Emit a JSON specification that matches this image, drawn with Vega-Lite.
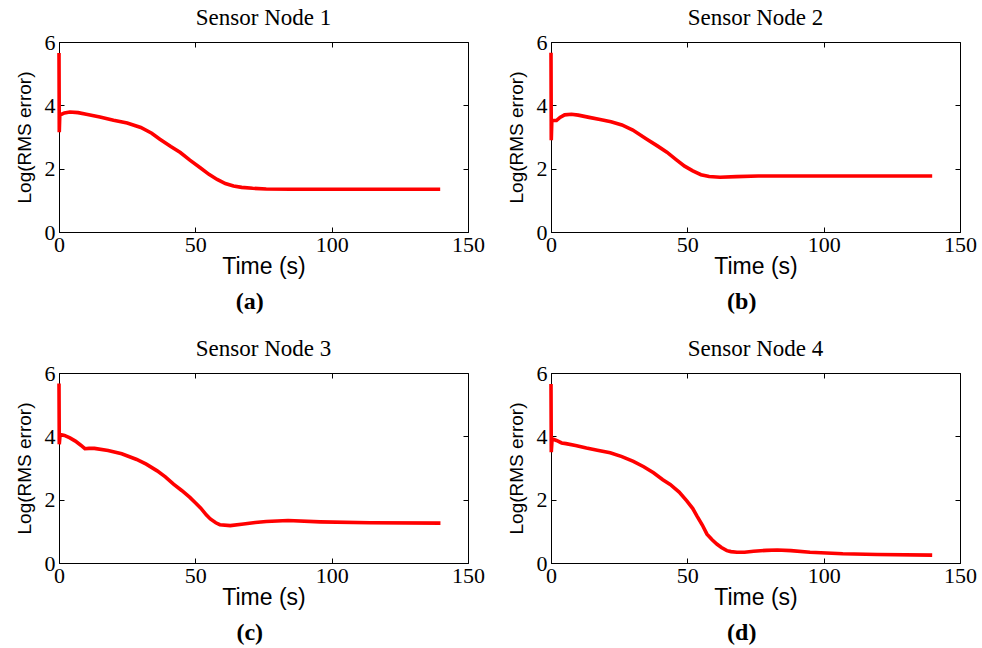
{
  "$schema": "https://vega.github.io/schema/vega-lite/v6.json",
  "background": "white",
  "padding": {"left": 14, "top": 6, "right": 5, "bottom": 0},
  "spacing": {"row": 23, "column": 21},
  "columns": 2,
  "config": {
    "view": {"stroke": "black", "strokeWidth": 1},
    "axis": {"grid": false, "domainColor": "black", "tickColor": "black", "labelColor": "black", "titleColor": "black", "titleFontWeight": "normal", "tickSize": -5, "labelFlush": false, "labelOverlap": false},
    "title": {"font": "Liberation Serif", "fontSize": 23, "fontWeight": "normal", "color": "black"}
  },
  "datasets": {
    "n1": [
      {"i": 0, "t": 0, "v": 5.65}, {"i": 1, "t": 0.1, "v": 3.15}, {"i": 2, "t": 0.3, "v": 3.72}, {"i": 3, "t": 1, "v": 3.72},
      {"i": 4, "t": 2, "v": 3.76}, {"i": 5, "t": 4, "v": 3.79}, {"i": 6, "t": 7, "v": 3.77}, {"i": 7, "t": 10, "v": 3.72},
      {"i": 8, "t": 15, "v": 3.63}, {"i": 9, "t": 20, "v": 3.53}, {"i": 10, "t": 25, "v": 3.44}, {"i": 11, "t": 30, "v": 3.3},
      {"i": 12, "t": 34, "v": 3.12}, {"i": 13, "t": 37, "v": 2.93}, {"i": 14, "t": 41, "v": 2.7}, {"i": 15, "t": 44.5, "v": 2.51},
      {"i": 16, "t": 48, "v": 2.27}, {"i": 17, "t": 51.8, "v": 2.03}, {"i": 18, "t": 55, "v": 1.82}, {"i": 19, "t": 58, "v": 1.66},
      {"i": 20, "t": 61, "v": 1.53}, {"i": 21, "t": 64, "v": 1.45}, {"i": 22, "t": 67, "v": 1.41}, {"i": 23, "t": 71, "v": 1.38},
      {"i": 24, "t": 76, "v": 1.36}, {"i": 25, "t": 85, "v": 1.35}, {"i": 26, "t": 100, "v": 1.35}, {"i": 27, "t": 120, "v": 1.35},
      {"i": 28, "t": 139.8, "v": 1.35}
    ],
    "n2": [
      {"i": 0, "t": 0, "v": 5.66}, {"i": 1, "t": 0.1, "v": 2.9}, {"i": 2, "t": 0.3, "v": 3.52}, {"i": 3, "t": 1, "v": 3.52},
      {"i": 4, "t": 2, "v": 3.52}, {"i": 5, "t": 3.3, "v": 3.62}, {"i": 6, "t": 5, "v": 3.7}, {"i": 7, "t": 7.5, "v": 3.72},
      {"i": 8, "t": 10, "v": 3.69}, {"i": 9, "t": 14, "v": 3.62}, {"i": 10, "t": 18, "v": 3.55}, {"i": 11, "t": 22, "v": 3.48},
      {"i": 12, "t": 26, "v": 3.38}, {"i": 13, "t": 30, "v": 3.22}, {"i": 14, "t": 35, "v": 2.94}, {"i": 15, "t": 39, "v": 2.72},
      {"i": 16, "t": 42.5, "v": 2.52}, {"i": 17, "t": 46, "v": 2.28}, {"i": 18, "t": 49, "v": 2.08}, {"i": 19, "t": 52, "v": 1.93},
      {"i": 20, "t": 55, "v": 1.81}, {"i": 21, "t": 58, "v": 1.75}, {"i": 22, "t": 62, "v": 1.73}, {"i": 23, "t": 68, "v": 1.75},
      {"i": 24, "t": 76, "v": 1.77}, {"i": 25, "t": 90, "v": 1.77}, {"i": 26, "t": 110, "v": 1.77}, {"i": 27, "t": 139.8, "v": 1.77}
    ],
    "n3": [
      {"i": 0, "t": 0, "v": 5.67}, {"i": 1, "t": 0.1, "v": 3.75}, {"i": 2, "t": 0.4, "v": 4.06}, {"i": 3, "t": 2, "v": 4.03},
      {"i": 4, "t": 4, "v": 3.95}, {"i": 5, "t": 6, "v": 3.85}, {"i": 6, "t": 8, "v": 3.72}, {"i": 7, "t": 9.5, "v": 3.61},
      {"i": 8, "t": 11, "v": 3.62}, {"i": 9, "t": 13, "v": 3.62}, {"i": 10, "t": 18, "v": 3.55}, {"i": 11, "t": 23, "v": 3.45},
      {"i": 12, "t": 28.5, "v": 3.27}, {"i": 13, "t": 32, "v": 3.12}, {"i": 14, "t": 36, "v": 2.91}, {"i": 15, "t": 39, "v": 2.72},
      {"i": 16, "t": 42, "v": 2.49}, {"i": 17, "t": 45, "v": 2.29}, {"i": 18, "t": 48, "v": 2.07}, {"i": 19, "t": 50, "v": 1.9},
      {"i": 20, "t": 52, "v": 1.73}, {"i": 21, "t": 54, "v": 1.52}, {"i": 22, "t": 55.5, "v": 1.39}, {"i": 23, "t": 57.5, "v": 1.27},
      {"i": 24, "t": 59, "v": 1.21}, {"i": 25, "t": 62.8, "v": 1.18}, {"i": 26, "t": 67.7, "v": 1.23}, {"i": 27, "t": 72, "v": 1.28},
      {"i": 28, "t": 76, "v": 1.31}, {"i": 29, "t": 84, "v": 1.34}, {"i": 30, "t": 95.8, "v": 1.3}, {"i": 31, "t": 114, "v": 1.27},
      {"i": 32, "t": 139.9, "v": 1.26}
    ],
    "n4": [
      {"i": 0, "t": 0, "v": 5.65}, {"i": 1, "t": 0.1, "v": 3.5}, {"i": 2, "t": 0.4, "v": 3.92}, {"i": 3, "t": 2, "v": 3.87},
      {"i": 4, "t": 3.9, "v": 3.79}, {"i": 5, "t": 5.5, "v": 3.77}, {"i": 6, "t": 9, "v": 3.71}, {"i": 7, "t": 13, "v": 3.63},
      {"i": 8, "t": 17, "v": 3.56}, {"i": 9, "t": 21.7, "v": 3.48}, {"i": 10, "t": 26, "v": 3.36}, {"i": 11, "t": 30.2, "v": 3.21},
      {"i": 12, "t": 34, "v": 3.04}, {"i": 13, "t": 37.6, "v": 2.85}, {"i": 14, "t": 41, "v": 2.63}, {"i": 15, "t": 43.7, "v": 2.48},
      {"i": 16, "t": 47, "v": 2.24}, {"i": 17, "t": 49.8, "v": 1.96}, {"i": 18, "t": 52, "v": 1.72}, {"i": 19, "t": 53.5, "v": 1.49},
      {"i": 20, "t": 55.5, "v": 1.2}, {"i": 21, "t": 57.2, "v": 0.91}, {"i": 22, "t": 59, "v": 0.74}, {"i": 23, "t": 60.8, "v": 0.6},
      {"i": 24, "t": 62.5, "v": 0.49}, {"i": 25, "t": 64.5, "v": 0.39}, {"i": 26, "t": 66, "v": 0.36}, {"i": 27, "t": 68.2, "v": 0.34},
      {"i": 28, "t": 71, "v": 0.34}, {"i": 29, "t": 74.3, "v": 0.37}, {"i": 30, "t": 79, "v": 0.4}, {"i": 31, "t": 83, "v": 0.41},
      {"i": 32, "t": 88, "v": 0.39}, {"i": 33, "t": 95, "v": 0.34}, {"i": 34, "t": 107, "v": 0.29}, {"i": 35, "t": 119.6, "v": 0.27},
      {"i": 36, "t": 139.8, "v": 0.25}
    ]
  },
  "concat": [
    {
      "title": {"text": "(a)", "orient": "bottom", "anchor": "middle", "font": "Liberation Serif", "fontSize": 24, "fontWeight": "bold", "offset": 11},
      "vconcat": [{
        "title": {"text": "Sensor Node 1", "anchor": "middle", "offset": 1},
        "width": 409, "height": 190,
        "data": {"name": "n1"},
        "layer": [
          {"mark": {"type": "line", "color": "#ff0000", "strokeWidth": 3.6},
           "encoding": {
             "x": {"field": "t", "type": "quantitative", "scale": {"domain": [0, 150], "nice": false}, "axis": {"values": [0, 50, 100, 150], "title": "Time (s)", "labelFont": "Liberation Serif", "labelFontSize": 22, "labelPadding": 7, "titleFont": "Liberation Sans", "titleFontSize": 23, "titlePadding": 0}},
             "y": {"field": "v", "type": "quantitative", "scale": {"domain": [0, 6], "nice": false}, "axis": {"values": [0, 2, 4, 6], "title": "Log(RMS error)", "labelFont": "Liberation Serif", "labelFontSize": 22, "labelPadding": 9, "titleFont": "Liberation Sans", "titleFontSize": 19, "titlePadding": 10}},
             "order": {"field": "i"}}},
          {"mark": {"type": "line", "opacity": 0},
           "encoding": {
             "x": {"field": "t", "type": "quantitative", "axis": {"orient": "top", "values": [0, 50, 100, 150], "labels": false, "title": null, "domain": false}},
             "y": {"field": "v", "type": "quantitative", "axis": {"orient": "right", "values": [0, 2, 4, 6], "labels": false, "title": null, "domain": false}},
             "order": {"field": "i"}}}
        ],
        "resolve": {"axis": {"x": "independent", "y": "independent"}}
      }]
    },
    {
      "title": {"text": "(b)", "orient": "bottom", "anchor": "middle", "font": "Liberation Serif", "fontSize": 24, "fontWeight": "bold", "offset": 11},
      "vconcat": [{
        "title": {"text": "Sensor Node 2", "anchor": "middle", "offset": 1},
        "width": 409, "height": 190,
        "data": {"name": "n2"},
        "layer": [
          {"mark": {"type": "line", "color": "#ff0000", "strokeWidth": 3.6},
           "encoding": {
             "x": {"field": "t", "type": "quantitative", "scale": {"domain": [0, 150], "nice": false}, "axis": {"values": [0, 50, 100, 150], "title": "Time (s)", "labelFont": "Liberation Serif", "labelFontSize": 22, "labelPadding": 7, "titleFont": "Liberation Sans", "titleFontSize": 23, "titlePadding": 0}},
             "y": {"field": "v", "type": "quantitative", "scale": {"domain": [0, 6], "nice": false}, "axis": {"values": [0, 2, 4, 6], "title": "Log(RMS error)", "labelFont": "Liberation Serif", "labelFontSize": 22, "labelPadding": 9, "titleFont": "Liberation Sans", "titleFontSize": 19, "titlePadding": 10}},
             "order": {"field": "i"}}},
          {"mark": {"type": "line", "opacity": 0},
           "encoding": {
             "x": {"field": "t", "type": "quantitative", "axis": {"orient": "top", "values": [0, 50, 100, 150], "labels": false, "title": null, "domain": false}},
             "y": {"field": "v", "type": "quantitative", "axis": {"orient": "right", "values": [0, 2, 4, 6], "labels": false, "title": null, "domain": false}},
             "order": {"field": "i"}}}
        ],
        "resolve": {"axis": {"x": "independent", "y": "independent"}}
      }]
    },
    {
      "title": {"text": "(c)", "orient": "bottom", "anchor": "middle", "font": "Liberation Serif", "fontSize": 24, "fontWeight": "bold", "offset": 11},
      "vconcat": [{
        "title": {"text": "Sensor Node 3", "anchor": "middle", "offset": 1},
        "width": 409, "height": 190,
        "data": {"name": "n3"},
        "layer": [
          {"mark": {"type": "line", "color": "#ff0000", "strokeWidth": 3.6},
           "encoding": {
             "x": {"field": "t", "type": "quantitative", "scale": {"domain": [0, 150], "nice": false}, "axis": {"values": [0, 50, 100, 150], "title": "Time (s)", "labelFont": "Liberation Serif", "labelFontSize": 22, "labelPadding": 7, "titleFont": "Liberation Sans", "titleFontSize": 23, "titlePadding": 0}},
             "y": {"field": "v", "type": "quantitative", "scale": {"domain": [0, 6], "nice": false}, "axis": {"values": [0, 2, 4, 6], "title": "Log(RMS error)", "labelFont": "Liberation Serif", "labelFontSize": 22, "labelPadding": 9, "titleFont": "Liberation Sans", "titleFontSize": 19, "titlePadding": 10}},
             "order": {"field": "i"}}},
          {"mark": {"type": "line", "opacity": 0},
           "encoding": {
             "x": {"field": "t", "type": "quantitative", "axis": {"orient": "top", "values": [0, 50, 100, 150], "labels": false, "title": null, "domain": false}},
             "y": {"field": "v", "type": "quantitative", "axis": {"orient": "right", "values": [0, 2, 4, 6], "labels": false, "title": null, "domain": false}},
             "order": {"field": "i"}}}
        ],
        "resolve": {"axis": {"x": "independent", "y": "independent"}}
      }]
    },
    {
      "title": {"text": "(d)", "orient": "bottom", "anchor": "middle", "font": "Liberation Serif", "fontSize": 24, "fontWeight": "bold", "offset": 11},
      "vconcat": [{
        "title": {"text": "Sensor Node 4", "anchor": "middle", "offset": 1},
        "width": 409, "height": 190,
        "data": {"name": "n4"},
        "layer": [
          {"mark": {"type": "line", "color": "#ff0000", "strokeWidth": 3.6},
           "encoding": {
             "x": {"field": "t", "type": "quantitative", "scale": {"domain": [0, 150], "nice": false}, "axis": {"values": [0, 50, 100, 150], "title": "Time (s)", "labelFont": "Liberation Serif", "labelFontSize": 22, "labelPadding": 7, "titleFont": "Liberation Sans", "titleFontSize": 23, "titlePadding": 0}},
             "y": {"field": "v", "type": "quantitative", "scale": {"domain": [0, 6], "nice": false}, "axis": {"values": [0, 2, 4, 6], "title": "Log(RMS error)", "labelFont": "Liberation Serif", "labelFontSize": 22, "labelPadding": 9, "titleFont": "Liberation Sans", "titleFontSize": 19, "titlePadding": 10}},
             "order": {"field": "i"}}},
          {"mark": {"type": "line", "opacity": 0},
           "encoding": {
             "x": {"field": "t", "type": "quantitative", "axis": {"orient": "top", "values": [0, 50, 100, 150], "labels": false, "title": null, "domain": false}},
             "y": {"field": "v", "type": "quantitative", "axis": {"orient": "right", "values": [0, 2, 4, 6], "labels": false, "title": null, "domain": false}},
             "order": {"field": "i"}}}
        ],
        "resolve": {"axis": {"x": "independent", "y": "independent"}}
      }]
    }
  ]
}
